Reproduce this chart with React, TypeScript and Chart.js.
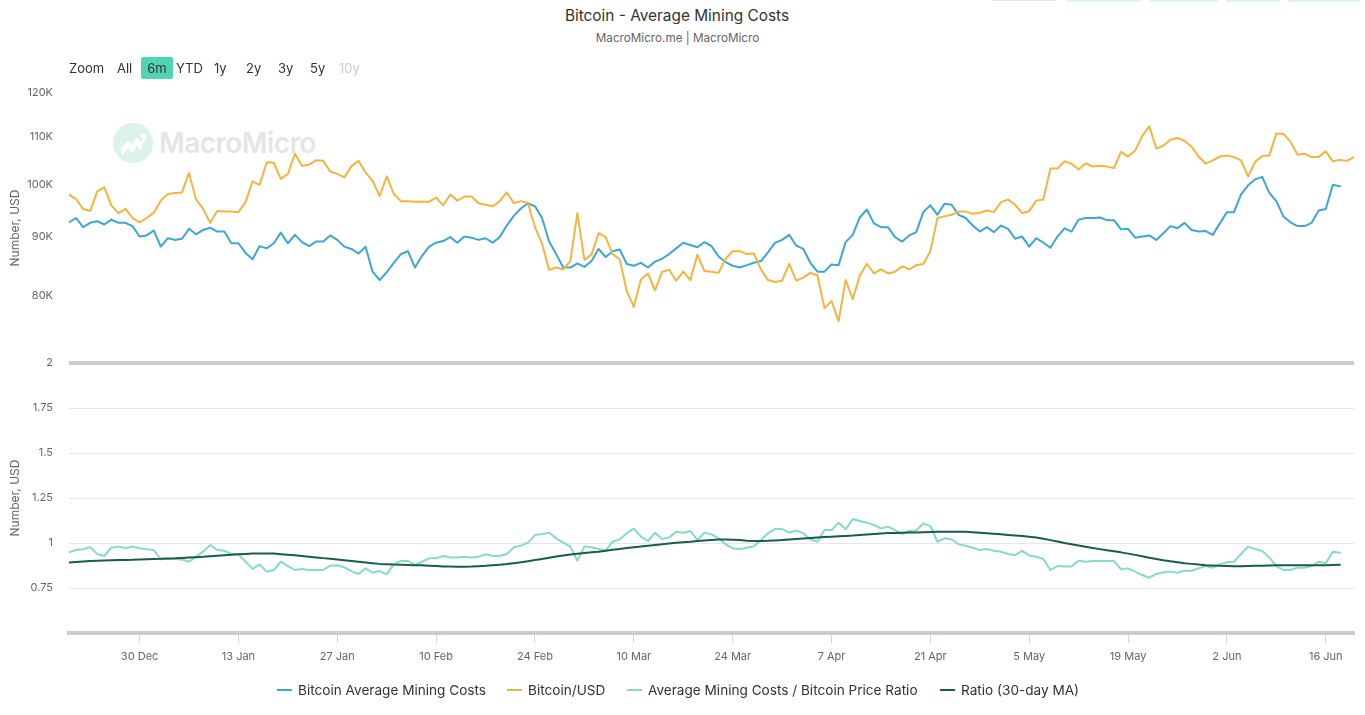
import React, { useEffect, useRef } from 'react';
import { Chart, registerables } from 'chart.js';

Chart.register(...registerables);

const FONT = 'Inter, "Liberation Sans", Arial, sans-serif';

// x axis: day offsets from 20 Dec 2024 (6m range ends 20 Jun 2025)
const X_MAX_DAY = 182;
const TICK_DAYS = [10, 24, 38, 52, 66, 80, 94, 108, 122, 136, 150, 164, 178];
const TICK_LABELS = ['30 Dec', '13 Jan', '27 Jan', '10 Feb', '24 Feb', '10 Mar', '24 Mar', '7 Apr', '21 Apr', '5 May', '19 May', '2 Jun', '16 Jun'];

// Bitcoin Average Mining Costs (thousand USD), daily
const MINING_COST_K = [
  92.7, 93.5, 91.8, 92.6, 92.9, 92.3, 93.2, 92.6, 92.6, 92.0,
  90.1, 90.3, 91.2, 88.3, 89.8, 89.5, 89.7, 91.5, 90.5, 91.3,
  91.7, 91.0, 91.0, 88.9, 88.9, 87.2, 86.1, 88.4, 88.0, 88.9,
  90.8, 88.9, 90.4, 89.1, 88.4, 89.2, 89.2, 90.3, 89.5, 88.3,
  87.9, 87.1, 88.3, 84.0, 82.6, 83.9, 85.5, 87.0, 87.5, 84.7,
  86.7, 88.3, 89.0, 89.3, 90.0, 89.0, 90.1, 89.9, 89.5, 89.8,
  89.0, 90.0, 92.1, 93.9, 95.3, 96.3, 95.7, 93.5, 89.2, 87.0,
  84.7, 84.7, 85.4, 84.8, 85.8, 87.9, 86.5, 87.5, 87.8, 85.3,
  85.0, 85.5, 84.7, 85.7, 86.2, 87.0, 88.0, 89.0, 88.6, 88.2,
  89.1, 88.4, 86.6, 85.6, 85.0, 84.7, 85.1, 85.5, 85.8, 87.3,
  89.0, 89.5, 90.4, 88.5, 87.9, 85.5, 84.0, 84.0, 85.2, 85.1,
  89.1, 90.4, 93.6, 95.1, 92.5, 91.8, 91.8, 90.0, 89.2, 90.3,
  90.9, 94.6, 95.9, 94.1, 96.2, 96.0, 94.1, 93.5, 92.1, 91.0,
  91.8, 90.9, 92.1, 91.5, 89.7, 90.1, 88.3, 89.8, 89.0, 88.1,
  90.1, 91.6, 91.0, 93.2, 93.5, 93.5, 93.6, 93.1, 93.1, 91.4,
  91.5, 89.9, 90.1, 90.3, 89.5, 90.7, 92.0, 91.6, 92.6, 91.3,
  91.0, 91.1, 90.4, 92.5, 94.6, 94.6, 98.0, 99.8, 101.0, 101.5,
  98.3, 96.7, 93.8, 92.7, 92.0, 92.0, 92.6, 94.9, 95.2, 99.9,
  99.6,
];

// Bitcoin/USD (thousand USD), daily
const BTC_USD_K = [
  98.0, 97.1, 95.2, 94.8, 98.6, 99.4, 95.9, 94.4, 95.2, 93.5,
  92.7, 93.5, 94.5, 96.8, 98.1, 98.3, 98.4, 102.3, 97.0, 95.2,
  92.6, 94.8, 94.7, 94.7, 94.6, 96.5, 100.6, 99.9, 104.5, 104.4,
  101.1, 102.1, 106.3, 103.8, 104.0, 104.9, 104.8, 102.6, 102.1, 101.4,
  103.7, 104.8, 102.4, 100.7, 97.7, 101.6, 98.1, 96.7, 96.7, 96.6,
  96.6, 96.6, 97.4, 95.9, 98.0, 96.8, 97.6, 97.6, 96.3, 96.0,
  95.7, 96.7, 98.4, 96.3, 96.7, 96.4, 91.8, 88.8, 84.3, 84.7,
  84.4, 85.8, 94.4, 86.0, 86.9, 90.7, 90.0, 87.0, 86.1, 80.8,
  78.3, 82.7, 83.7, 80.9, 84.0, 84.3, 82.5, 84.0, 82.6, 86.9,
  84.1, 84.0, 83.8, 86.2, 87.5, 87.5, 87.0, 87.1, 84.4, 82.6,
  82.3, 82.5, 85.3, 82.5, 83.0, 83.8, 83.4, 78.1, 79.2, 76.1,
  82.6, 79.5, 83.3, 85.3, 83.7, 84.4, 83.7, 84.0, 84.9, 84.4,
  85.1, 85.3, 87.5, 93.5, 93.8, 94.1, 94.7, 94.7, 94.3, 94.5,
  94.9, 94.6, 96.5, 97.0, 96.0, 94.4, 94.8, 96.8, 97.0, 103.2,
  103.2, 104.7, 104.2, 103.0, 104.3, 103.6, 103.8, 103.6, 103.3, 106.7,
  105.7, 107.0, 110.1, 112.3, 107.4, 108.0, 109.3, 109.7, 109.1, 107.8,
  105.7, 104.2, 104.9, 105.7, 105.9, 105.6, 104.9, 101.6, 104.6, 105.8,
  105.9, 110.7, 110.6, 108.9, 106.1, 106.3, 105.6, 105.6, 106.8, 104.7,
  105.0, 104.8, 105.6,
];

// Average Mining Costs / Bitcoin Price Ratio, daily
const RATIO = [
  0.948, 0.961, 0.965, 0.976, 0.939, 0.928, 0.974, 0.980, 0.971, 0.980,
  0.971, 0.965, 0.961, 0.909, 0.913, 0.911, 0.909, 0.896, 0.924, 0.952,
  0.989, 0.961, 0.957, 0.939, 0.937, 0.896, 0.856, 0.881, 0.841, 0.850,
  0.896, 0.872, 0.850, 0.856, 0.850, 0.850, 0.850, 0.874, 0.876, 0.865,
  0.844, 0.828, 0.859, 0.835, 0.844, 0.826, 0.881, 0.900, 0.900, 0.878,
  0.896, 0.915, 0.915, 0.928, 0.919, 0.919, 0.924, 0.919, 0.924, 0.937,
  0.928, 0.928, 0.939, 0.976, 0.985, 1.002, 1.044, 1.050, 1.057, 1.026,
  1.002, 0.980, 0.902, 0.980, 0.976, 0.967, 0.957, 1.007, 1.020, 1.054,
  1.080, 1.035, 1.011, 1.057, 1.022, 1.030, 1.063, 1.057, 1.067, 1.017,
  1.057, 1.048, 1.026, 0.993, 0.971, 0.965, 0.974, 0.980, 1.017, 1.054,
  1.078, 1.078, 1.057, 1.069, 1.054, 1.020, 1.007, 1.072, 1.072, 1.113,
  1.076, 1.133, 1.122, 1.113, 1.100, 1.081, 1.091, 1.072, 1.050, 1.067,
  1.069, 1.109, 1.094, 1.007, 1.026, 1.020, 0.993, 0.985, 0.974, 0.961,
  0.967, 0.957, 0.952, 0.939, 0.933, 0.956, 0.930, 0.924, 0.911, 0.850,
  0.872, 0.869, 0.869, 0.902, 0.896, 0.900, 0.900, 0.900, 0.900, 0.854,
  0.859, 0.841, 0.822, 0.807, 0.828, 0.837, 0.841, 0.835, 0.846, 0.846,
  0.859, 0.872, 0.863, 0.881, 0.893, 0.896, 0.939, 0.980, 0.967, 0.956,
  0.920, 0.872, 0.850, 0.850, 0.863, 0.863, 0.872, 0.896, 0.887, 0.952,
  0.946,
];

// Ratio (30-day MA), daily
const RATIO_MA30 = [
  0.891, 0.894, 0.897, 0.900, 0.902, 0.903, 0.904, 0.905, 0.906, 0.907,
  0.909, 0.910, 0.911, 0.912, 0.914, 0.915, 0.917, 0.919, 0.921, 0.923,
  0.926, 0.929, 0.932, 0.935, 0.937, 0.939, 0.941, 0.942, 0.942, 0.941,
  0.938, 0.935, 0.932, 0.928, 0.924, 0.920, 0.916, 0.912, 0.908, 0.904,
  0.900, 0.896, 0.892, 0.888, 0.884, 0.882, 0.880, 0.879, 0.878, 0.877,
  0.876, 0.874, 0.872, 0.870, 0.869, 0.868, 0.868, 0.869, 0.871, 0.873,
  0.876, 0.879, 0.883, 0.888, 0.893, 0.899, 0.905, 0.911, 0.918, 0.925,
  0.931, 0.936, 0.940, 0.944, 0.948, 0.952, 0.957, 0.962, 0.967, 0.972,
  0.977, 0.981, 0.985, 0.989, 0.993, 0.997, 1.001, 1.004, 1.007, 1.011,
  1.014, 1.017, 1.019, 1.019, 1.018, 1.016, 1.013, 1.011, 1.011, 1.012,
  1.014, 1.016, 1.019, 1.022, 1.025, 1.028, 1.031, 1.033, 1.035, 1.037,
  1.039, 1.041, 1.044, 1.047, 1.050, 1.053, 1.055, 1.056, 1.057, 1.058,
  1.059, 1.060, 1.061, 1.062, 1.063, 1.063, 1.063, 1.062, 1.060, 1.057,
  1.054, 1.051, 1.048, 1.045, 1.042, 1.039, 1.035, 1.031, 1.024, 1.016,
  1.008, 1.000, 0.993, 0.986, 0.979, 0.972, 0.966, 0.960, 0.954, 0.948,
  0.941, 0.934, 0.926, 0.918, 0.911, 0.904, 0.898, 0.893, 0.888, 0.884,
  0.880, 0.877, 0.875, 0.873, 0.872, 0.871, 0.871, 0.872, 0.873, 0.874,
  0.875, 0.876, 0.876, 0.876, 0.876, 0.876, 0.876, 0.876, 0.877, 0.878,
  0.879,
];

const PRICE_TICKS_K = [80, 90, 100, 110, 120];
const RATIO_TICKS = [0.5, 0.75, 1, 1.25, 1.5, 1.75, 2];
const RANGE_BUTTONS = ['All', '6m', 'YTD', '1y', '2y', '3y', '5y', '10y'];
const RANGE_LEFT = [117, 141, 176, 214, 246, 278, 310, 339];

const SERIES = [
  { label: 'Bitcoin Average Mining Costs', color: '#3ca7d5', legendLeft: 277 },
  { label: 'Bitcoin/USD', color: '#f3b53e', legendLeft: 507 },
  { label: 'Average Mining Costs / Bitcoin Price Ratio', color: '#86dbc3', legendLeft: 627 },
  { label: 'Ratio (30-day MA)', color: '#195c4c', legendLeft: 940 },
];

const toPoints = (arr: number[]) => arr.map((y, x) => ({ x, y }));

export default function App() {
  const canvasRef = useRef<HTMLCanvasElement>(null);

  useEffect(() => {
    document.body.style.margin = '0';
    const canvas = canvasRef.current;
    if (!canvas) return;
    const tickFont = { family: FONT, size: 11 };
    const chart = new Chart(canvas, {
      type: 'line',
      data: {
        datasets: [
          { label: SERIES[0].label, data: toPoints(MINING_COST_K), yAxisID: 'yPrice', borderColor: SERIES[0].color, order: 4 },
          { label: SERIES[1].label, data: toPoints(BTC_USD_K), yAxisID: 'yPrice', borderColor: SERIES[1].color, order: 3 },
          { label: SERIES[2].label, data: toPoints(RATIO), yAxisID: 'yRatio', borderColor: SERIES[2].color, order: 2 },
          { label: SERIES[3].label, data: toPoints(RATIO_MA30), yAxisID: 'yRatio', borderColor: SERIES[3].color, order: 1 },
        ],
      },
      options: {
        animation: false,
        responsive: false,
        events: [],
        elements: {
          point: { radius: 0 },
          line: { borderWidth: 2, tension: 0, borderJoinStyle: 'round', borderCapStyle: 'round' },
        },
        layout: { padding: { top: 93, right: 11, bottom: 0, left: 0 } },
        plugins: {
          legend: { display: false },
          tooltip: { enabled: false },
          title: { display: false },
        },
        scales: {
          x: {
            type: 'linear',
            min: 0,
            max: X_MAX_DAY,
            afterBuildTicks: (s: any) => { s.ticks = TICK_DAYS.map((v) => ({ value: v })); },
            afterFit: (s: any) => { s.height = 82; },
            ticks: {
              autoSkip: false,
              maxRotation: 0,
              color: '#666',
              font: tickFont,
              padding: 7,
              callback: (v: any) => {
                const i = TICK_DAYS.indexOf(Number(v));
                return i >= 0 ? TICK_LABELS[i] : '';
              },
            },
            grid: { drawOnChartArea: false, drawTicks: true, tickLength: 10, color: '#ccd6eb', lineWidth: 1 },
            border: { display: true, color: '#cccccc', width: 4 },
          },
          yRatio: {
            type: 'linear',
            position: 'left',
            stack: 'panes',
            stackWeight: 1,
            min: 0.5,
            max: 2,
            afterBuildTicks: (s: any) => { s.ticks = RATIO_TICKS.map((v) => ({ value: v })); },
            afterFit: (s: any) => { s.width = 69; },
            ticks: {
              color: '#666',
              font: tickFont,
              padding: 16,
              callback: (v: any) => (Number(v) === 0.5 ? '' : String(v)),
            },
            grid: {
              drawTicks: false,
              color: (ctx: any) => (ctx.tick && ctx.tick.value === 2 ? '#cccccc' : ctx.tick && ctx.tick.value === 0.5 ? 'rgba(0,0,0,0)' : '#e6e6e6'),
              lineWidth: (ctx: any) => (ctx.tick && ctx.tick.value === 2 ? 4 : 1),
            },
            border: { display: false },
            title: { display: true, text: 'Number, USD', color: '#666', font: { family: FONT, size: 12 }, padding: { top: 8, bottom: 0 } },
          },
          yPrice: {
            type: 'logarithmic',
            position: 'left',
            stack: 'panes',
            stackWeight: 1,
            min: 70,
            max: 120,
            afterBuildTicks: (s: any) => { s.ticks = PRICE_TICKS_K.map((v) => ({ value: v })); },
            afterFit: (s: any) => { s.width = 69; },
            ticks: {
              color: '#666',
              font: tickFont,
              padding: 8,
              callback: (v: any) => `${Number(v)}K`,
            },
            grid: { display: false },
            border: { display: false },
            title: { display: true, text: 'Number, USD', color: '#666', font: { family: FONT, size: 12 }, padding: { top: 8, bottom: 0 } },
          },
        },
      } as any,
    });
    return () => chart.destroy();
  }, []);

  const topButtons = [
    { l: 992, w: 64, c: '#f1e9e9', h: 1 },
    { l: 1066, w: 75, c: '#dff4ee', h: 2 },
    { l: 1149, w: 69, c: '#dff4ee', h: 2 },
    { l: 1226, w: 54, c: '#dff4ee', h: 2 },
    { l: 1287, w: 74, c: '#dff4ee', h: 2 },
  ];

  return (
    <div style={{ position: 'relative', width: 1365, height: 715, background: '#fff', fontFamily: FONT, overflow: 'hidden' }}>
      {topButtons.map((b, i) => (
        <div key={i} style={{ position: 'absolute', left: b.l, top: 0, width: b.w, height: b.h, background: b.c, borderRadius: 2 }} />
      ))}
      <div style={{ position: 'absolute', left: 0, top: 6, width: 1354, textAlign: 'center', fontSize: 15.4, lineHeight: '19px', color: '#333' }}>
        Bitcoin - Average Mining Costs
      </div>
      <div style={{ position: 'absolute', left: 0, top: 30, width: 1355, textAlign: 'center', fontSize: 11.7, lineHeight: '16px', color: '#666' }}>
        MacroMicro.me | MacroMicro
      </div>
      {/* watermark */}
      <div style={{ position: 'absolute', left: 113, top: 123, width: 40, height: 40, borderRadius: 20, background: '#daf4ed' }}>
        <svg width="40" height="40" viewBox="0 0 40 40">
          <polyline points="9,27 15,19 19,24 24,16 28,22 32,14" fill="none" stroke="#fff" strokeWidth="2.6" strokeLinecap="round" strokeLinejoin="round" />
          <polyline points="9,31 15,23 19,28 24,20 28,26" fill="none" stroke="#fff" strokeWidth="2.6" strokeLinecap="round" strokeLinejoin="round" />
          <circle cx="30" cy="13" r="2.4" fill="#fff" />
        </svg>
      </div>
      <div style={{ position: 'absolute', left: 159, top: 125, fontSize: 28, lineHeight: '36px', fontWeight: 600, color: '#e5e5e5', letterSpacing: -0.6 }}>
        MacroMicro
      </div>
      <canvas ref={canvasRef} width={1365} height={715} style={{ position: 'absolute', left: 0, top: 0, width: 1365, height: 715 }} />
      {/* range selector */}
      <div style={{ position: 'absolute', left: 141, top: 57, width: 32, height: 22, background: '#4fd5b3', borderRadius: 2 }} />
      <div style={{ position: 'absolute', left: 69, top: 60, fontSize: 13, lineHeight: '16px', color: '#333' }}>Zoom</div>
      {RANGE_BUTTONS.map((t, i) => (
        <div
          key={t}
          style={{
            position: 'absolute',
            left: t === '6m' ? 141 : RANGE_LEFT[i],
            width: t === '6m' ? 32 : undefined,
            textAlign: t === '6m' ? 'center' : undefined,
            top: 60,
            fontSize: 13,
            lineHeight: '16px',
            color: t === '10y' ? '#cccccc' : '#333',
          }}
        >
          {t}
        </div>
      ))}
      {/* legend */}
      {SERIES.map((s) => (
        <div key={s.label} style={{ position: 'absolute', left: s.legendLeft, top: 681, height: 18, display: 'flex', alignItems: 'center', whiteSpace: 'nowrap' }}>
          <span style={{ display: 'inline-block', width: 15, height: 2, background: s.color, marginRight: 6 }} />
          <span style={{ fontSize: 13.6, lineHeight: '18px', color: '#333' }}>{s.label}</span>
        </div>
      ))}
    </div>
  );
}
